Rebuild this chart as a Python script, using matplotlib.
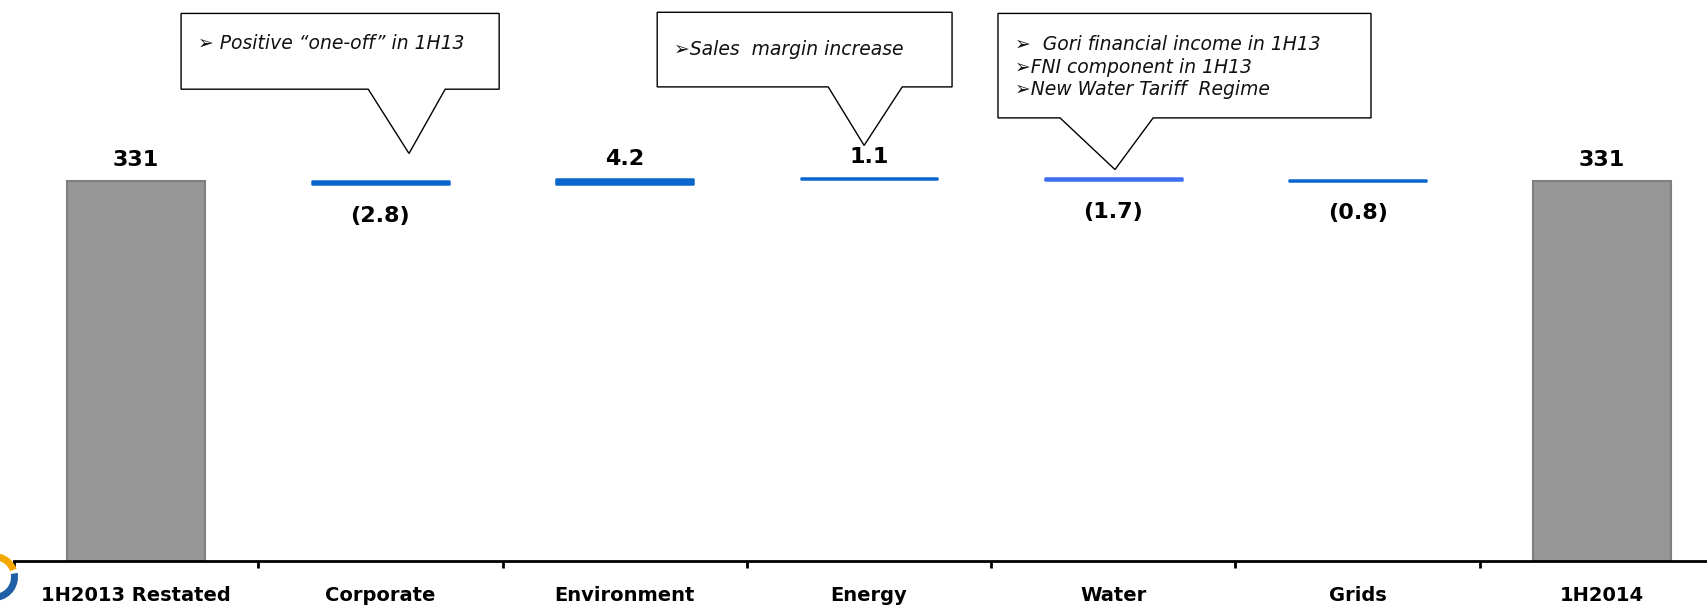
import numpy as np
import matplotlib.pyplot as plt
from matplotlib.patches import Polygon, Wedge

# EBITDA bridge, 1H2013 restated -> 1H2014 (EUR m)
categories = ["1H2013 Restated", "Corporate", "Environment", "Energy",
              "Water", "Grids", "1H2014"]
values = [331, -2.8, 4.2, 1.1, -1.7, -0.8, 331]
is_total = [True, False, False, False, False, False, True]
bar_colors = ["#969696", "#0A66CC", "#0A66CC", "#0A66CC",
              "#3D6EF2", "#0A66CC", "#969696"]

# callout boxes: text lines, box (x0, x1, ybottom, ytop), pointer base and tip
callouts = [
    dict(lines=["➢ Positive “one-off” in 1H13"], line_y=[451],
         box=(0.184, 1.486, 411, 477), base=(0.950, 1.265), tip=(1.117, 355)),
    dict(lines=["➢Sales  margin increase"], line_y=[446],
         box=(2.133, 3.340, 413, 478), base=(2.833, 3.136), tip=(2.980, 362)),
    dict(lines=["➢  Gori financial income in 1H13",
                "➢FNI component in 1H13",
                "➢New Water Tariff  Regime"], line_y=[450, 430, 411],
         box=(3.528, 5.055, 386, 477), base=(3.782, 4.163), tip=(4.007, 341)),
]


def fmt(v):
    if abs(v) >= 100:
        return "{:.0f}".format(v)
    if v < 0:
        return "({:.1f})".format(-v)
    return "{:.1f}".format(v)


def make_plot():
    fig = plt.figure(figsize=(17.08, 6.07), dpi=100)
    ax = fig.add_axes([14 / 1708, 46 / 607, 1710 / 1708, 561 / 607])

    x = np.arange(len(categories))
    # running bottoms for the floating bars
    bottoms = []
    level = 0.0
    for v, tot in zip(values, is_total):
        if tot:
            bottoms.append(0.0)
            level = v
        else:
            bottoms.append(level if v >= 0 else level + v)
            level += v
    heights = np.abs(values)

    for xi, b, h, c, tot in zip(x, bottoms, heights, bar_colors, is_total):
        if tot:
            ax.bar(xi, h, bottom=b, width=0.565, color=c,
                   edgecolor="#7F7F7F", linewidth=1.5, zorder=2)
        else:
            ax.bar(xi, h, bottom=b, width=0.56, color=c, edgecolor=c,
                   linewidth=1.8, joinstyle="round", zorder=2)

    for xi, b, v, tot in zip(x, bottoms, values, is_total):
        if tot or v >= 0:
            ax.annotate(fmt(v), (xi, b + abs(v)), xytext=(0, 15),
                        textcoords="offset points", ha="center", va="center",
                        fontsize=16, fontweight="bold", family="DejaVu Sans")
        else:
            ax.annotate(fmt(v), (xi, b), xytext=(0, -23),
                        textcoords="offset points", ha="center", va="center",
                        fontsize=16, fontweight="bold", family="DejaVu Sans")

    for c in callouts:
        x0, x1, yb, yt = c["box"]
        bx0, bx1 = c["base"]
        tx, ty = c["tip"]
        pts = [(x0, yt), (x1, yt), (x1, yb), (bx1, yb), (tx, ty),
               (bx0, yb), (x0, yb)]
        ax.add_patch(Polygon(pts, closed=True, facecolor="white",
                             edgecolor="black", linewidth=1.0, zorder=5,
                             clip_on=False))
        for line, ly in zip(c["lines"], c["line_y"]):
            ax.text(x0 + 0.07, ly, line, ha="left", va="center",
                    fontsize=13.5, style="italic", family="DejaVu Sans",
                    color="#111111", zorder=6)

    ax.set_xlim(-0.5, len(categories) - 0.5)
    ax.set_ylim(0, 488.7)
    for s in ["top", "right", "left"]:
        ax.spines[s].set_visible(False)
    ax.spines["bottom"].set_linewidth(2)
    ax.set_yticks([])
    ax.set_xticks(x)
    ax.set_xticklabels(categories, fontsize=14, fontweight="bold",
                       family="DejaVu Sans")
    ax.tick_params(axis="x", which="major", length=0, pad=18)
    ax.set_xticks(np.arange(-0.5, len(categories)), minor=True)
    ax.tick_params(axis="x", which="minor", length=5, width=2,
                   direction="out")

    # corner of the company logo peeking in at the bottom left
    fig.patches.append(Wedge((-6, 30), 24, 20, 75, width=7,
                             transform=None, facecolor="#F5A800",
                             edgecolor="none"))
    fig.patches.append(Wedge((-6, 30), 24, -80, 10, width=7,
                             transform=None, facecolor="#1F5FA8",
                             edgecolor="none"))

    fig.savefig("out.png", dpi=100)


if __name__ == "__main__":
    make_plot()
